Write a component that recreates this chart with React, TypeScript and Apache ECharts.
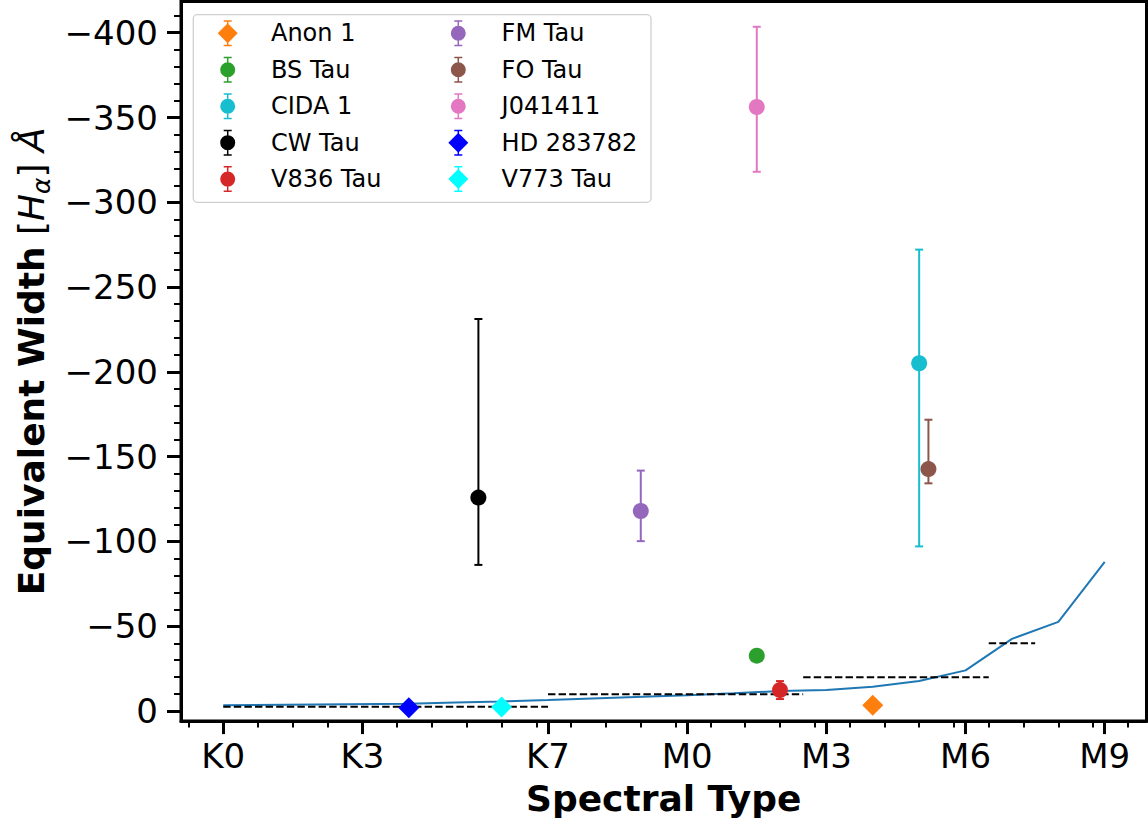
import React, { useEffect, useRef } from 'react';
import * as echarts from 'echarts';

// ---- axis ticks ----
const xTickValues = [0, 3, 7, 10, 13, 16, 19];
const xTickLabels = ['K0', 'K3', 'K7', 'M0', 'M3', 'M6', 'M9'];
const xMinorTicks = [-0.75, 0.75, 1.5, 2.25, 3.75, 4.5, 5.25, 6, 6.75, 7.5, 8.25, 9, 9.75, 10.5, 11.25, 12, 12.75, 13.5, 14.25, 15, 15.75, 16.5, 17.25, 18, 18.75, 19.5];
const yTickValues = [-400, -350, -300, -250, -200, -150, -100, -50, 0];
const yMinorTicks = [-410, -390, -380, -370, -360, -340, -330, -320, -310, -290, -280, -270, -260, -240, -230, -220, -210, -190, -180, -170, -160, -140, -130, -120, -110, -90, -80, -70, -60, -40, -30, -20, -10];

// ---- stars ----
const starNames = ['Anon 1', 'BS Tau', 'CIDA 1', 'CW Tau', 'V836 Tau', 'FM Tau', 'FO Tau', 'J041411', 'HD 283782', 'V773 Tau'];
const starSpT = [14, 11.5, 15, 5.5, 12, 9, 15.2, 11.5, 4, 6];
const starEW = [-3.5, -32.7, -205.1, -125.9, -12.4, -118, -142.7, -356.2, -1.9, -2.4];
const starErrTop = [null, null, -272.1, -231.2, -17.7, -141.8, -171.8, -403.5, null, null];
const starErrBottom = [null, null, -97.1, -86.2, -7.1, -100.2, -134.3, -318, null, null];
const starColors = ['#ff7f0e', '#2ca02c', '#17becf', '#000000', '#d62728', '#9467bd', '#8c564b', '#e377c2', '#0000ff', '#00ffff'];
const starSymbols = ['diamond', 'circle', 'circle', 'circle', 'circle', 'circle', 'circle', 'circle', 'diamond', 'diamond'];

// ---- saturation curve ----
const curveSpT = [0, 4, 5, 6, 7, 10, 11, 12, 13, 14, 15, 16, 17, 18, 19];
const curveEW = [-3.5, -4.3, -5.0, -5.7, -6.5, -9.4, -10.5, -11.8, -12.5, -14.4, -17.7, -24, -42.6, -52.6, -88];

// ---- criterion segments (dashed) ----
const critStart = [0, 7, 12.5, 16.5];
const critEnd = [7, 12.5, 16.5, 17.5];
const critEW = [-2.5, -10, -20, -40];

const FONT = 'DejaVu Sans';

const circleIcon =
  'path://M6.75,0 L8.25,0 L8.25,26 L6.75,26 Z M3.5,0 L11.5,0 L11.5,1.5 L3.5,1.5 Z M3.5,24.5 L11.5,24.5 L11.5,26 L3.5,26 Z M0,13 A7.5,7.5 0 1 1 15,13 A7.5,7.5 0 1 1 0,13 Z';
const diamondIcon =
  'path://M9.25,0 L10.75,0 L10.75,26 L9.25,26 Z M6,0 L14,0 L14,1.5 L6,1.5 Z M6,24.5 L14,24.5 L14,26 L6,26 Z M10,3 L20,13 L10,23 L0,13 Z';

export default function App() {
  const ref = useRef<HTMLDivElement>(null);

  useEffect(() => {
    if (!ref.current) return;
    const chart = echarts.init(ref.current, undefined, { renderer: 'svg' });

    const xMin = -0.91;
    const xMax = 19.9;
    const yMin = -418.4;
    const yMax = 5.9;

    const series: any[] = [];

    series.push({
      name: 'curve',
      type: 'line',
      xAxisIndex: 0,
      yAxisIndex: 0,
      data: curveSpT.map((x, i) => [x, curveEW[i]]),
      showSymbol: false,
      symbol: 'none',
      lineStyle: { color: '#1f77b4', width: 2 },
      z: 2,
    });

    critStart.forEach((s, i) => {
      series.push({
        name: 'crit' + i,
        type: 'line',
        xAxisIndex: 0,
        yAxisIndex: 0,
        data: [
          [s, critEW[i]],
          [critEnd[i], critEW[i]],
        ],
        showSymbol: false,
        symbol: 'none',
        lineStyle: { color: '#000', width: 2, type: [7.4, 3.2] },
        z: 2,
      });
    });

    const errData: any[] = [];
    starNames.forEach((_, i) => {
      if (starErrTop[i] != null && starErrBottom[i] != null) {
        errData.push([starSpT[i], starErrTop[i], starErrBottom[i], i]);
      }
    });

    series.push({
      name: 'errorbars',
      type: 'custom',
      xAxisIndex: 0,
      yAxisIndex: 0,
      data: errData,
      encode: { x: 0, y: [1, 2] },
      z: 3,
      renderItem: (params: any, api: any) => {
        const x = api.value(0);
        const top = api.coord([x, api.value(1)]);
        const bot = api.coord([x, api.value(2)]);
        const color = starColors[api.value(3)];
        const cw = 4;
        const st = { stroke: color, lineWidth: 2, fill: 'none' };
        return {
          type: 'group',
          children: [
            { type: 'line', shape: { x1: top[0], y1: top[1], x2: bot[0], y2: bot[1] }, style: st },
            { type: 'line', shape: { x1: top[0] - cw, y1: top[1], x2: top[0] + cw, y2: top[1] }, style: st },
            { type: 'line', shape: { x1: bot[0] - cw, y1: bot[1], x2: bot[0] + cw, y2: bot[1] }, style: st },
          ],
        };
      },
    });

    starNames.forEach((name, i) => {
      series.push({
        name,
        type: 'scatter',
        xAxisIndex: 0,
        yAxisIndex: 0,
        data: [[starSpT[i], starEW[i]]],
        symbol: starSymbols[i],
        symbolSize: starSymbols[i] === 'diamond' ? 21 : 16,
        itemStyle: { color: starColors[i], opacity: 1 },
        z: 4,
      });
    });

    const legendCommon = {
      orient: 'vertical',
      top: 20.3,
      padding: 0,
      itemWidth: 76.6,
      itemHeight: 26,
      itemGap: 10.45,
      selectedMode: false,
      symbolKeepAspect: true,
      textStyle: { fontSize: 24, fontFamily: FONT, color: '#000', lineHeight: 26 },
      z: 10,
    };

    const legendItem = (i: number) => ({
      name: starNames[i],
      icon: starSymbols[i] === 'diamond' ? diamondIcon : circleIcon,
    });

    const option: any = {
      animation: false,
      backgroundColor: '#ffffff',
      textStyle: { fontFamily: FONT },
      grid: {
        left: 181,
        top: 1.5,
        width: 965.5,
        height: 721.8,
        show: true,
        borderColor: '#000',
        borderWidth: 3,
        backgroundColor: 'transparent',
      },
      legend: [
        { ...legendCommon, left: 217.7, data: [0, 1, 2, 3, 4].map(legendItem) },
        { ...legendCommon, left: 448.3, data: [5, 6, 7, 8, 9].map(legendItem) },
      ],
      graphic: {
        elements: [
          {
            type: 'rect',
            z: 5,
            shape: { x: 193.3, y: 14.7, width: 457.7, height: 187.6, r: 4 },
            style: { fill: 'rgba(255,255,255,0.8)', stroke: '#d0d0d0', lineWidth: 1.3 },
          },
        ],
      },
      xAxis: [
        {
          type: 'value',
          min: xMin,
          max: xMax,
          position: 'bottom',
          splitLine: { show: false },
          axisLine: { show: true, onZero: false, lineStyle: { color: '#000', width: 3 } },
          axisTick: { show: true, customValues: xTickValues, length: 13, lineStyle: { color: '#000', width: 3 } },
          axisLabel: {
            customValues: xTickValues,
            formatter: (v: number) => {
              const idx = xTickValues.indexOf(v);
              return idx >= 0 ? xTickLabels[idx] : '';
            },
            fontSize: 34,
            fontFamily: FONT,
            color: '#000',
            margin: 18,
          },
          name: 'Spectral Type',
          nameLocation: 'middle',
          nameGap: 54,
          nameTextStyle: { fontSize: 36, fontWeight: 'bold', fontFamily: FONT, color: '#000', lineHeight: 40 },
        },
        {
          type: 'value',
          min: xMin,
          max: xMax,
          position: 'bottom',
          splitLine: { show: false },
          axisLine: { show: false, onZero: false },
          axisTick: { show: true, customValues: xMinorTicks, length: 6.5, lineStyle: { color: '#000', width: 2 } },
          axisLabel: { show: false },
        },
      ],
      yAxis: [
        {
          type: 'value',
          min: yMin,
          max: yMax,
          inverse: true,
          position: 'left',
          splitLine: { show: false },
          axisLine: { show: true, onZero: false, lineStyle: { color: '#000', width: 3 } },
          axisTick: { show: true, customValues: yTickValues, length: 14, lineStyle: { color: '#000', width: 3 } },
          axisLabel: {
            customValues: yTickValues,
            formatter: (v: number) => (v < 0 ? '\u2212' + Math.abs(v) : String(v)),
            fontSize: 34,
            fontFamily: FONT,
            color: '#000',
            margin: 23,
            padding: [10, 0, 0, 0],
          },
          name: '{b|Equivalent Width} {n|[}{i|H}{s|\u03b1}{n|]} {i|\u00c5}',
          nameLocation: 'middle',
          nameRotate: 90,
          nameGap: 126,
          nameTextStyle: {
            fontSize: 36,
            fontFamily: FONT,
            color: '#000',
            lineHeight: 44,
            rich: {
              b: { fontSize: 36, fontWeight: 'bold', fontFamily: FONT, color: '#000', lineHeight: 44 },
              n: { fontSize: 36, fontFamily: FONT, color: '#000', lineHeight: 44 },
              i: { fontSize: 36, fontStyle: 'italic', fontFamily: FONT, color: '#000', lineHeight: 44 },
              s: { fontSize: 25, fontStyle: 'italic', fontFamily: FONT, color: '#000', lineHeight: 24, verticalAlign: 'bottom' },
            },
          },
        },
        {
          type: 'value',
          min: yMin,
          max: yMax,
          inverse: true,
          position: 'left',
          splitLine: { show: false },
          axisLine: { show: false, onZero: false },
          axisTick: { show: true, customValues: yMinorTicks, length: 7, lineStyle: { color: '#000', width: 2 } },
          axisLabel: { show: false },
        },
      ],
      series,
    };

    chart.setOption(option);
    return () => chart.dispose();
  }, []);

  return (
    <div
      ref={ref}
      style={{ position: 'fixed', left: 0, top: 0, width: 1148, height: 823, background: '#fff' }}
    />
  );
}
